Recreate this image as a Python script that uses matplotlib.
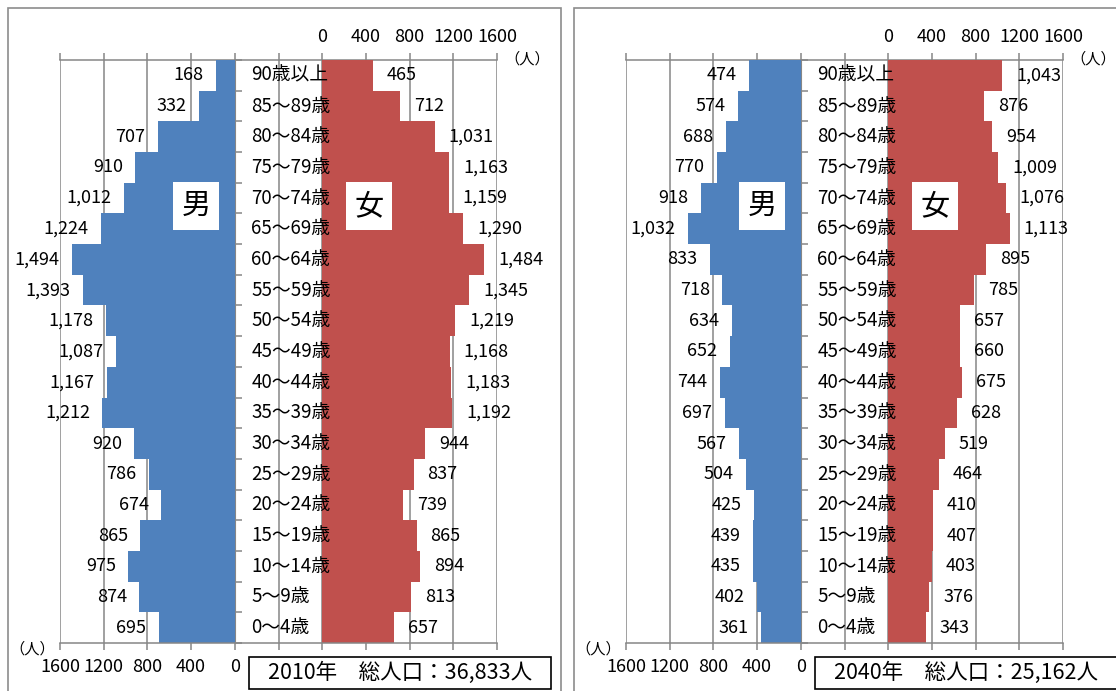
import matplotlib
matplotlib.use('Agg')
import matplotlib.pyplot as plt
from matplotlib.patches import Rectangle

plt.rcParams['font.family'] = ['Noto Sans CJK JP', 'DejaVu Sans']

# 年齢階級（上から下）
ages = ['90歳以上', '85～89歳', '80～84歳', '75～79歳', '70～74歳', '65～69歳',
        '60～64歳', '55～59歳', '50～54歳', '45～49歳', '40～44歳', '35～39歳',
        '30～34歳', '25～29歳', '20～24歳', '15～19歳', '10～14歳', '5～9歳', '0～4歳']

# 2010年
male_2010 = [168, 332, 707, 910, 1012, 1224, 1494, 1393, 1178, 1087,
             1167, 1212, 920, 786, 674, 865, 975, 874, 695]
female_2010 = [465, 712, 1031, 1163, 1159, 1290, 1484, 1345, 1219, 1168,
               1183, 1192, 944, 837, 739, 865, 894, 813, 657]

# 2040年
male_2040 = [474, 574, 688, 770, 918, 1032, 833, 718, 634, 652,
             744, 697, 567, 504, 425, 439, 435, 402, 361]
female_2040 = [1043, 876, 954, 1009, 1076, 1113, 895, 785, 657, 660,
               675, 628, 519, 464, 410, 407, 403, 376, 343]

titles = ['2010年\u3000総人口：36,833人', '2040年\u3000総人口：25,162人']

ticks = [0, 400, 800, 1200, 1600]
gap = 800  # 男と女の0の間隔（軸の単位）

W, H = 1116, 691
blue = '#4F81BD'
red = '#C0504D'
gridc = '#868686'


def fx(x):
    return x / W


def fy(y):
    return 1 - y / H


fig = plt.figure(figsize=(W / 100, H / 100), dpi=100)


def pyramid(x0, male, female, title):
    # パネルの枠
    fig.add_artist(Rectangle((fx(x0 + 8), -0.05), fx(553), fy(8) + 0.05,
                             transform=fig.transFigure, fill=False,
                             edgecolor='#8c8c8c', lw=1.2))
    ax = fig.add_axes([fx(x0 + 60), fy(643), fx(437), (643 - 60) / H])
    n = len(ages)
    y = [n - 1 - i for i in range(n)]
    ax.barh(y, [-m for m in male], height=1.0, color=blue, zorder=2)
    ax.barh(y, female, left=gap, height=1.0, color=red, zorder=2)
    ax.set_xlim(-1600, 1600 + gap)
    ax.set_ylim(-0.5, n - 0.5)

    pos = [-t for t in ticks[::-1]] + [gap + t for t in ticks]
    pos = sorted(set(pos + [gap / 2]))
    ax.set_xticks(pos)
    ax.set_xticklabels([str(-p) if p <= 0 else '' for p in pos], fontsize=13)
    ax.grid(axis='x', color=gridc, lw=1.1, zorder=0)
    ax.set_yticks([])
    for s in ['left', 'right', 'top']:
        ax.spines[s].set_visible(False)
    ax.spines['bottom'].set_color(gridc)
    ax.spines['bottom'].set_linewidth(1.1)
    ax.tick_params(axis='x', direction='out', length=5, width=1.1, color=gridc, pad=6)

    top = ax.secondary_xaxis('top')
    top.set_xticks(pos)
    top.set_xticklabels([str(p - gap) if p >= gap else '' for p in pos], fontsize=13)
    top.spines['top'].set_color(gridc)
    top.spines['top'].set_linewidth(1.1)
    top.tick_params(direction='out', length=5, width=1.1, color=gridc, pad=5)

    # 男の軸の目盛
    yax = ax.secondary_yaxis(1600 / (3200 + gap))
    yax.set_yticks([k - 0.5 for k in range(n + 1)])
    yax.set_yticklabels([])
    yax.tick_params(direction='in', length=5, width=1.1, color=gridc)
    yax.spines['left'].set_color(gridc)

    for yi, m, f, a in zip(y, male, female, ages):
        ax.annotate(f'{m:,}', xy=(-m, yi), xytext=(-9, 0), textcoords='offset points',
                    ha='right', va='center', fontsize=13, zorder=3)
        ax.annotate(f'{f:,}', xy=(gap + f, yi), xytext=(10, 0), textcoords='offset points',
                    ha='left', va='center', fontsize=13, zorder=3)
        ax.text(150, yi, a, ha='left', va='center', fontsize=13.5, zorder=3)

    # 男・女
    for xc, t in [(x0 + 196, '男'), (x0 + 369, '女')]:
        fig.text(fx(xc), fy(206), t, ha='center', va='center', fontsize=21,
                 bbox=dict(boxstyle='square,pad=0.3', fc='white', ec='none'))

    fig.text(fx(x0 + 527), fy(59), '（人）', ha='center', va='center', fontsize=11)
    fig.text(fx(x0 + 32), fy(649), '（人）', ha='center', va='center', fontsize=11)

    # 総人口
    fig.add_artist(Rectangle((fx(x0 + 249), fy(689)), fx(302), (689 - 657) / H,
                             transform=fig.transFigure, fc='white',
                             edgecolor='black', lw=1.2))
    fig.text(fx(x0 + 400), fy(673), title, ha='center', va='center', fontsize=15.5)


pyramid(0, male_2010, female_2010, titles[0])
pyramid(566, male_2040, female_2040, titles[1])

plt.savefig('out.png', dpi=100)
